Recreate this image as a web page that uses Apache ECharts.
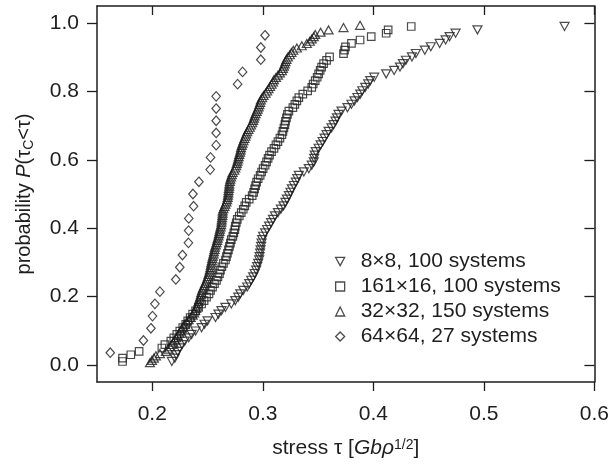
<!DOCTYPE html>
<html>
<head>
<meta charset="utf-8">
<script src="https://cdn.jsdelivr.net/npm/echarts@6/dist/echarts.min.js"></script>
<style>html,body{margin:0;padding:0;background:#fff}#c{width:612px;height:464px}</style>
</head>
<body>
<div id="c"></div>
<script>
// Series labels (as printed in the legend)
const seriesNames = ['8\u00d78, 100 systems', '161\u00d716, 100 systems', '32\u00d732, 150 systems', '64\u00d764, 27 systems'];
// Tick labels
const xTicks = [0.2, 0.3, 0.4, 0.5, 0.6];
const yTicks = [0.0, 0.2, 0.4, 0.6, 0.8, 1.0];

// Sorted critical stresses (rank order), one per system
const stress8 = [0.2177,0.2204,0.2217,0.2230,0.2249,0.2270,0.2294,0.2330,0.2356,0.2392,
0.2446,0.2473,0.2500,0.2572,0.2599,0.2626,0.2662,0.2715,0.2751,0.2778,
0.2796,0.2823,0.2859,0.2877,0.2895,0.2913,0.2926,0.2940,0.2949,0.2958,
0.2967,0.2971,0.2976,0.2980,0.2985,0.2989,0.2994,0.3003,0.3021,0.3039,
0.3057,0.3075,0.3092,0.3110,0.3137,0.3164,0.3187,0.3205,0.3218,0.3236,
0.3250,0.3263,0.3281,0.3299,0.3312,0.3326,0.3371,0.3416,0.3443,0.3461,
0.3465,0.3470,0.3479,0.3505,0.3523,0.3541,0.3559,0.3577,0.3595,0.3622,
0.3640,0.3658,0.3671,0.3685,0.3712,0.3766,0.3802,0.3829,0.3856,0.3882,
0.3900,0.3927,0.3954,0.3972,0.4008,0.4116,0.4188,0.4241,0.4268,0.4295,
0.4349,0.4385,0.4466,0.4520,0.4600,0.4654,0.4690,0.4744,0.4942,0.5730];

const stress16 = [0.1731,0.1731,0.1806,0.1881,0.2087,0.2114,0.2168,0.2195,0.2222,0.2249,
0.2276,0.2303,0.2321,0.2343,0.2365,0.2392,0.2419,0.2446,0.2469,0.2491,
0.2513,0.2527,0.2545,0.2563,0.2581,0.2594,0.2608,0.2617,0.2630,0.2644,
0.2662,0.2671,0.2680,0.2689,0.2698,0.2707,0.2715,0.2729,0.2738,0.2747,
0.2751,0.2760,0.2769,0.2787,0.2805,0.2823,0.2837,0.2850,0.2877,0.2904,
0.2917,0.2926,0.2935,0.2944,0.2958,0.2976,0.2989,0.3003,0.3021,0.3034,
0.3048,0.3061,0.3079,0.3101,0.3119,0.3137,0.3155,0.3173,0.3182,0.3191,
0.3200,0.3205,0.3214,0.3223,0.3236,0.3272,0.3290,0.3308,0.3326,0.3362,
0.3406,0.3443,0.3456,0.3474,0.3492,0.3505,0.3519,0.3532,0.3550,0.3577,
0.3604,0.3730,0.3739,0.3748,0.3802,0.3880,0.3981,0.4116,0.4134,0.4343];

const stress32 = [0.1979,0.1997,0.2015,0.2033,0.2069,0.2123,0.2141,0.2159,0.2177,0.2190,
0.2204,0.2217,0.2231,0.2244,0.2258,0.2267,0.2280,0.2294,0.2311,0.2329,
0.2347,0.2365,0.2379,0.2388,0.2397,0.2406,0.2413,0.2419,0.2426,0.2433,
0.2439,0.2444,0.2451,0.2460,0.2469,0.2478,0.2488,0.2496,0.2503,0.2509,
0.2516,0.2521,0.2525,0.2530,0.2533,0.2539,0.2543,0.2548,0.2554,0.2558,
0.2563,0.2567,0.2575,0.2581,0.2587,0.2592,0.2599,0.2603,0.2608,0.2612,
0.2618,0.2623,0.2626,0.2628,0.2631,0.2634,0.2636,0.2637,0.2644,0.2653,
0.2662,0.2671,0.2677,0.2682,0.2685,0.2688,0.2690,0.2693,0.2696,0.2697,
0.2702,0.2706,0.2713,0.2720,0.2727,0.2742,0.2751,0.2759,0.2765,0.2771,
0.2777,0.2782,0.2787,0.2794,0.2799,0.2803,0.2810,0.2817,0.2825,0.2834,
0.2843,0.2850,0.2859,0.2870,0.2882,0.2893,0.2904,0.2913,0.2920,0.2926,
0.2935,0.2944,0.2953,0.2962,0.2969,0.2976,0.2982,0.2994,0.3007,0.3025,
0.3039,0.3052,0.3066,0.3079,0.3092,0.3101,0.3119,0.3137,0.3155,0.3173,
0.3182,0.3191,0.3198,0.3205,0.3214,0.3227,0.3245,0.3259,0.3276,0.3308,
0.3353,0.3398,0.3425,0.3443,0.3461,0.3474,0.3523,0.3595,0.3730,0.3880];

const stress64 = [0.1620,0.1920,0.1988,0.2002,0.2024,0.2069,0.2213,0.2249,0.2273,0.2327,
0.2329,0.2330,0.2374,0.2368,0.2422,0.2524,0.2527,0.2578,0.2578,0.2578,
0.2578,0.2578,0.2772,0.2817,0.2982,0.2982,0.3020];

// cumulative probability of the k-th ranked system: k/(N+1)
function cdf(values) {
  const n = values.length;
  return values.map((v, i) => [v, (i + 1) / (n + 1)]);
}

const FONT = 'Liberation Sans';
const INK = '#1e1e1e';
const axisLine = {show: true, onZero: false, lineStyle: {color: INK, width: 1.5}};
const tickStyle = {color: INK, width: 1.3};

function xAxisDef(position, outer) {
  return {
    type: 'value', position: position, min: 0.15, max: 0.6,
    axisLine: axisLine,
    axisTick: {show: true, inside: !outer, length: 9, customValues: xTicks, lineStyle: tickStyle},
    axisLabel: {show: outer, customValues: xTicks, margin: 22, color: INK, fontSize: 21, fontFamily: FONT,
      formatter: v => v.toFixed(1)},
    splitLine: {show: false}
  };
}
function yAxisDef(position, outer) {
  return {
    type: 'value', position: position, min: -0.05, max: 1.05,
    axisLine: axisLine,
    axisTick: {show: true, inside: !outer, length: 10, customValues: yTicks, lineStyle: tickStyle},
    axisLabel: {show: outer, customValues: yTicks, margin: 18, color: INK, fontSize: 21, fontFamily: FONT,
      formatter: v => v.toFixed(1)},
    splitLine: {show: false}
  };
}

const xBottom = xAxisDef('bottom', true);
xBottom.name = '{a|stress \u03c4 [}{i|Gb\u03c1}{p|1/2}{a|]}';
xBottom.nameLocation = 'middle';
xBottom.nameGap = 55;
xBottom.nameTextStyle = {
  fontFamily: FONT, fontSize: 21, color: INK,
  rich: {
    a: {fontFamily: FONT, fontSize: 21, color: INK, lineHeight: 22},
    i: {fontFamily: FONT, fontSize: 21, color: INK, fontStyle: 'italic', lineHeight: 22},
    p: {fontFamily: FONT, fontSize: 14, color: INK, lineHeight: 14, padding: [0, 0, 5, 0]}
  }
};

const yLeft = yAxisDef('left', true);
yLeft.name = '{a|probability }{i|P}{a|(\u03c4}{s|C}{a|<\u03c4)}';
yLeft.nameLocation = 'middle';
yLeft.nameRotate = 90;
yLeft.nameGap = 62;
yLeft.nameTextStyle = {
  fontFamily: FONT, fontSize: 20, color: INK,
  rich: {
    a: {fontFamily: FONT, fontSize: 20, color: INK, lineHeight: 22},
    i: {fontFamily: FONT, fontSize: 20, color: INK, fontStyle: 'italic', lineHeight: 22},
    s: {fontFamily: FONT, fontSize: 14, color: INK, lineHeight: 14, padding: [11, 0, 0, 0]}
  }
};

const markerStyle = {color: 'rgba(255,255,255,0)', borderColor: INK, borderWidth: 1.2};
const downTri = 'path://M0,0L10,0L5,9Z';

function scatter(name, values, symbol, size) {
  return {
    name: name, type: 'scatter', data: cdf(values),
    symbol: symbol, symbolSize: size, symbolKeepAspect: true,
    itemStyle: markerStyle, emphasis: {disabled: true}, silent: true
  };
}

const chart = echarts.init(document.getElementById('c'), null, {renderer: 'canvas'});
chart.setOption({
  animation: false,
  backgroundColor: '#fff',
  grid: {left: 97, right: 14, top: 6, bottom: 82, containLabel: false},
  xAxis: [xBottom, xAxisDef('top', false)],
  yAxis: [yLeft, yAxisDef('right', false)],
  legend: {
    orient: 'vertical', left: 330, top: 244,
    itemWidth: 9, itemHeight: 9, itemGap: 0,
    selectedMode: false,
    textStyle: {fontFamily: FONT, fontSize: 21, color: INK, lineHeight: 25, padding: [0, 0, 0, 11]},
    itemStyle: {color: 'rgba(255,255,255,0)', borderColor: INK, borderWidth: 1.3},
    data: seriesNames
  },
  series: [
    scatter(seriesNames[0], stress8, downTri, 9),
    scatter(seriesNames[1], stress16, 'rect', 7.5),
    scatter(seriesNames[2], stress32, 'triangle', [9, 8]),
    scatter(seriesNames[3], stress64, 'diamond', [8.5, 9.5])
  ]
});
</script>
</body>
</html>
